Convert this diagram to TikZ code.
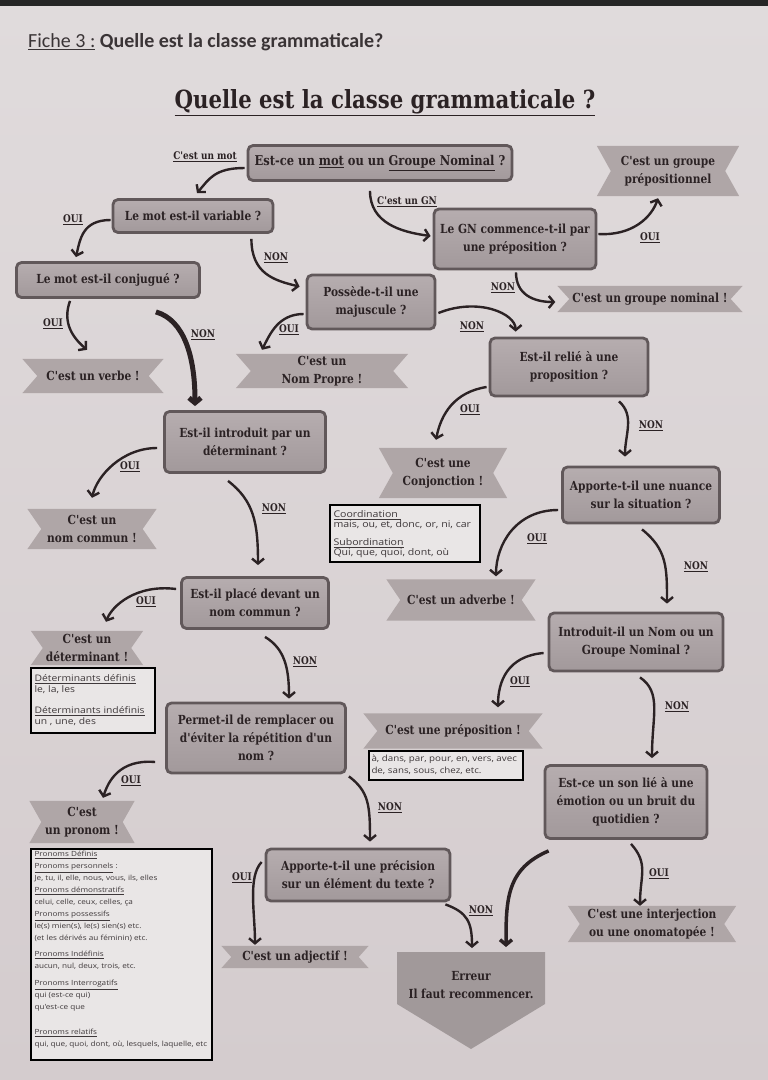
\documentclass[tikz,border=0pt]{standalone}
\usepackage{fontspec}
\setmainfont{DejaVu Serif}
\newfontfamily\slab{DejaVu Serif}[FakeStretch=0.85]
\newfontfamily\hdrf{Carlito}
\newfontfamily\lstf{Open Sans}[FakeStretch=1.15]
\usetikzlibrary{arrows.meta,backgrounds}
\definecolor{paperA}{HTML}{E0DBDC}
\definecolor{paperB}{HTML}{D4CCCE}
\definecolor{ink}{HTML}{2B2224}
\definecolor{hdrcol}{HTML}{3A3436}
\definecolor{boxtop}{HTML}{B6ADAF}
\definecolor{boxbot}{HTML}{A2999B}
\definecolor{boxline}{HTML}{61585A}
\definecolor{ribfill}{HTML}{AFA6A7}
\definecolor{lsttext}{HTML}{3E383A}
\tikzset{
  qbox/.style={draw=boxline, line width=2.8pt, rounded corners=5pt, top color=boxtop, bottom color=boxbot,
    align=center, inner sep=2pt, text=ink, font=\slab\bfseries\fontsize{12.5}{18}\selectfont},
  rib/.style={align=center, inner sep=1pt, text=ink, font=\slab\bfseries\fontsize{12.5}{18}\selectfont},
  lbl/.style={text=ink, inner sep=1pt, font=\slab\bfseries\fontsize{10.5}{12}\selectfont},
  arr/.style={draw=ink, line width=2.4pt, -{Straight Barb[length=5pt,width=12pt]}},
  info/.style={draw=black, line width=1.4pt, fill=paperA!70!white, inner sep=0pt},
  lsttxt/.style={align=left, inner sep=0pt, text=lsttext, anchor=north west},
}
\begin{document}
\begin{tikzpicture}[x=1pt,y=-1pt]
\useasboundingbox (0,0) rectangle (768,1080);
% header
\node[anchor=west, font=\hdrf\fontsize{20}{23}\selectfont, text=hdrcol, inner sep=0pt] (hdr) at (28,42)
  {\underline{Fiche 3 :} \textbf{Quelle est la classe grammaticale?}};
\node[font=\slab\bfseries\fontsize{25}{28}\selectfont, text=ink, inner sep=0pt] (title) at (385,103)
  {\underline{Quelle est la classe grammaticale ?}};

% questions
\node[qbox, minimum width=264pt, minimum height=35pt, font=\slab\bfseries\fontsize{13.5}{17}\selectfont] (q1) at (380,163) {Est-ce un \underline{mot} ou un \underline{Groupe Nominal} ?};
\node[qbox, minimum width=160pt, minimum height=33pt] (q2) at (193,216) {Le mot est-il variable ?};
\node[qbox, minimum width=183pt, minimum height=35pt] (q3) at (108,280) {Le mot est-il conjugué ?};
\node[qbox, minimum width=162pt, minimum height=60pt] (q4) at (515,239) {Le GN commence-t-il par\\une préposition ?};
\node[qbox, minimum width=128pt, minimum height=54pt] (q5) at (371,302) {Possède-t-il une\\majuscule ?};
\node[qbox, minimum width=158pt, minimum height=58pt] (q6) at (569,367) {Est-il relié à une\\proposition ?};
\node[qbox, minimum width=161pt, minimum height=61pt] (q7) at (245,442) {Est-il introduit par un\\déterminant ?};
\node[qbox, minimum width=157pt, minimum height=56pt] (q8) at (641,495) {Apporte-t-il une nuance\\sur la situation ?};
\node[qbox, minimum width=147pt, minimum height=51pt] (q9) at (255,603) {Est-il placé devant un\\nom commun ?};
\node[qbox, minimum width=174pt, minimum height=58pt] (q10) at (636,642) {Introduit-il un Nom ou un\\Groupe Nominal ?};
\node[qbox, minimum width=179pt, minimum height=70pt] (q11) at (256,738) {Permet-il de remplacer ou\\d'éviter la répétition d'un\\nom ?};
\node[qbox, minimum width=162pt, minimum height=73pt] (q12) at (626,802) {Est-ce un son lié à une\\émotion ou un bruit du\\quotidien ?};
\node[qbox, minimum width=184pt, minimum height=52pt] (q13) at (358,875) {Apporte-t-il une précision\\sur un élément du texte ?};

% results (ribbons)
\node[rib, minimum width=142pt, minimum height=50pt] (r1) at (668,171) {C'est un groupe\\prépositionnel};
\node[rib, minimum width=185pt, minimum height=26pt] (r2) at (650,299) {C'est un groupe nominal !};
\node[rib, minimum width=141pt, minimum height=34pt] (r3) at (93,376) {C'est un verbe !};
\node[rib, minimum width=172pt, minimum height=34pt] (r4) at (322,371) {C'est un\\Nom Propre !};
\node[rib, minimum width=128pt, minimum height=50pt] (r5) at (443,473) {C'est une\\Conjonction !};
\node[rib, minimum width=129pt, minimum height=40pt] (r6) at (92,529) {C'est un\\nom commun !};
\node[rib, minimum width=149pt, minimum height=41pt] (r7) at (461,600) {C'est un adverbe !};
\node[rib, minimum width=112pt, minimum height=34pt] (r8) at (87,648) {C'est un\\déterminant !};
\node[rib, minimum width=179pt, minimum height=35pt] (r9) at (453,731) {C'est une préposition !};
\node[rib, minimum width=105pt, minimum height=42pt] (r10) at (82,822) {C'est\\un pronom !};
\node[rib, minimum width=168pt, minimum height=36pt] (r11) at (652,924) {C'est une interjection\\ou une onomatopée !};
\node[rib, minimum width=147pt, minimum height=22pt] (r12) at (295,957) {C'est un adjectif !};
\node[rib] (err) at (471,985) {Erreur\\Il faut recommencer.};

% info boxes
\node[info, minimum width=150pt, minimum height=57pt] (b1) at (405,533.5) {};
\node[lsttxt, font=\lstf\fontsize{9.2}{10}\selectfont] (b1t) at ([shift={(4,6)}]b1.north west)
  {\underline{Coordination }\\mais, ou, et, donc, or, ni, car\\[8pt]\underline{Subordination}\\Qui, que, quoi, dont, où};
\node[info, minimum width=124pt, minimum height=65pt] (b2) at (93,700.5) {};
\node[lsttxt, font=\lstf\fontsize{9}{11.5}\selectfont] (b2t) at ([shift={(4,7)}]b2.north west)
  {\underline{Déterminants définis}\\le, la, les\\[9pt]\underline{Déterminants indéfinis}\\un , une, des};
\node[info, minimum width=154pt, minimum height=29pt] (b3) at (446,765.5) {};
\node[lsttxt, font=\lstf\fontsize{8.5}{12.5}\selectfont] (b3t) at ([shift={(3,4)}]b3.north west)
  {à, dans, par, pour, en, vers, avec\\de, sans, sous, chez, etc.};
\node[info, minimum width=181pt, minimum height=211pt] (b4) at (121.5,954.5) {};
\node[lsttxt, font=\lstf\fontsize{7.1}{12}\selectfont] (b4t) at ([shift={(4,3)}]b4.north west)
  {\underline{Pronoms Définis}\\
   \underline{Pronoms personnels} :\\
   Je, tu, il, elle, nous, vous, ils, elles\\
   \underline{Pronoms démonstratifs}\\
   celui, celle, ceux, celles, ça\\
   \underline{Pronoms possessifs}\\
   le(s) mien(s), le(s) sien(s) etc.\\
   (et les dérivés au féminin) etc.\\[4pt]
   \underline{Pronoms Indéfinis}\\
   aucun, nul, deux, trois, etc.\\[5pt]
   \underline{Pronoms Interrogatifs}\\
   qui (est-ce qui)\\
   qu'est-ce que\\[13pt]
   \underline{Pronoms relatifs}\\
   qui, que, quoi, dont, où, lesquels, laquelle, etc};

% background: paper, ribbons, error arrow shape
\begin{scope}[on background layer]
\shade[top color=paperA, bottom color=paperB] (0,0) rectangle (768,1080);
\fill[black!85] (0,0) rectangle (768,6);
\foreach \n/\d in {r1/14,r2/12,r3/15,r4/15,r5/14,r6/14,r7/14,r8/12,r9/14,r10/12,r11/12,r12/10}
  \fill[ribfill] (\n.north west) -- (\n.north east) -- ([xshift=-\d pt]\n.east) -- (\n.south east)
     -- (\n.south west) -- ([xshift=\d pt]\n.west) -- cycle;
\fill[ribfill!92!black] ([shift={(-74,-33)}]err.center) -- ([shift={(74,-33)}]err.center)
  -- ([shift={(74,19)}]err.center) -- ([shift={(0,64)}]err.center) -- ([shift={(-74,19)}]err.center) -- cycle;
\end{scope}

% connectors
\draw[arr] ([shift={(-2,5)}]q1.west) .. controls +(-30,0) and +(12,-14) .. ([shift={(4,-5)}]q2.north);
\draw[arr] ([shift={(-10,9)}]q1.south) .. controls +(0,32) and +(-30,-4) .. ([shift={(-2,-3)}]q4.west);
\draw[arr] ([shift={(1,-5)}]q4.east) .. controls +(35,2) and +(-6,18) .. ([shift={(-10,2)}]r1.south);
\draw[arr] ([shift={(1,2)}]q4.south) .. controls +(0,22) and +(-22,0) .. ([shift={(-2,3)}]r2.west);
\draw[arr] ([shift={(-1,4)}]q2.west) .. controls +(-28,0) and +(4,-18) .. ([shift={(-32,-4)}]q3.north);
\draw[arr] ([shift={(-23,5)}]q2.south east) .. controls +(0,35) and +(-25,-6) .. ([shift={(-6,13)}]q5.north west);
\draw[arr] ([shift={(-38,2)}]q3.south) .. controls +(-8,22) and +(-14,-12) .. ([shift={(-6,-9)}]r3.north);
\draw[arr, line width=5pt] ([shift={(-45,13)}]q3.south east) .. controls +(28,8) and +(0,-50) .. ([shift={(-50,-4)}]q7.north);
\draw[arr] ([shift={(-2,12)}]q5.west) .. controls +(-25,0) and +(8,-16) .. ([shift={(-60,-4)}]r4.north);
\draw[arr] ([shift={(2,11)}]q5.east) .. controls +(40,-16) and +(0,-18) .. ([shift={(27,-5)}]q6.north west);
\draw[arr] ([shift={(-2,20)}]q6.west) .. controls +(-32,5) and +(5,-26) .. ([shift={(-7,-8)}]r5.north);
\draw[arr] ([shift={(50,4)}]q6.south) .. controls +(16,14) and +(0,-22) .. ([shift={(-16,-9)}]q8.north);
\draw[arr] ([shift={(-6,6)}]q7.west) .. controls +(-35,0) and +(5,-22) .. ([shift={(0,-11)}]r6.north);
\draw[arr] ([shift={(-17,7)}]q7.south) .. controls +(26,20) and +(0,-42) .. ([shift={(3,-11)}]q9.north);
\draw[arr] ([shift={(-3,15)}]q8.west) .. controls +(-42,0) and +(0,-32) .. ([shift={(35,-3)}]r7.north);
\draw[arr] ([shift={(1,5)}]q8.south) .. controls +(25,20) and +(0,-36) .. ([shift={(31,-8)}]q10.north);
\draw[arr] ([shift={(-4,-14)}]q9.west) .. controls +(-40,-5) and +(6,-16) .. ([shift={(19,-9)}]r8.north);
\draw[arr] ([shift={(10,7)}]q9.south) .. controls +(20,12) and +(0,-30) .. ([shift={(33,-3)}]q11.north);
\draw[arr] ([shift={(-4,11)}]q10.west) .. controls +(-36,3) and +(0,-26) .. ([shift={(45,-6)}]r9.north);
\draw[arr] ([shift={(4,5)}]q10.south) .. controls +(22,15) and +(0,-42) .. ([shift={(26,-6)}]q12.north);
\draw[arr] ([shift={(-10,24)}]q11.west) .. controls +(-36,-3) and +(5,-16) .. ([shift={(21,-3)}]r10.north);
\draw[arr] ([shift={(2,2)}]q11.south east) .. controls +(20,15) and +(0,-36) .. ([shift={(12,-6)}]q13.north);
\draw[arr] ([shift={(-3,-13)}]q13.west) .. controls +(-14,15) and +(0,-32) .. ([shift={(-40,-1)}]r12.north);
\draw[arr] ([shift={(-6,2)}]q13.south east) .. controls +(22,8) and +(0,-26) .. ([shift={(1,-37)}]err.center);
\draw[arr, line width=3.5pt] ([shift={(5,11)}]q12.south west) .. controls +(-42,18) and +(0,-48) .. ([shift={(35,-38)}]err.center);
\draw[arr] ([shift={(5,4)}]q12.south) .. controls +(18,20) and +(0,-30) .. ([shift={(-12,0)}]r11.north);

% labels
\node[lbl] (lmot) at (205,157) {\underline{C'est un mot}};
\node[lbl] (lgn) at (407,202) {\underline{C'est un GN}};
\node[lbl] (l3) at (650,238) {\underline{OUI}};
\node[lbl] (l4) at (503,288) {\underline{NON}};
\node[lbl] (l5) at (73,220) {\underline{OUI}};
\node[lbl] (l6) at (276,258) {\underline{NON}};
\node[lbl] (l7) at (53,324) {\underline{OUI}};
\node[lbl] (l8) at (203,335) {\underline{NON}};
\node[lbl] (l9) at (289,330) {\underline{OUI}};
\node[lbl] (l10) at (472,327) {\underline{NON}};
\node[lbl] (l11) at (470,410) {\underline{OUI}};
\node[lbl] (l12) at (651,426) {\underline{NON}};
\node[lbl] (l13) at (130,467) {\underline{OUI}};
\node[lbl] (l14) at (274,509) {\underline{NON}};
\node[lbl] (l15) at (537,539) {\underline{OUI}};
\node[lbl] (l16) at (696,567) {\underline{NON}};
\node[lbl] (l17) at (146,602) {\underline{OUI}};
\node[lbl] (l18) at (305,662) {\underline{NON}};
\node[lbl] (l19) at (520,682) {\underline{OUI}};
\node[lbl] (l20) at (677,707) {\underline{NON}};
\node[lbl] (l21) at (131,781) {\underline{OUI}};
\node[lbl] (l22) at (390,808) {\underline{NON}};
\node[lbl] (l23) at (242,878) {\underline{OUI}};
\node[lbl] (l24) at (481,911) {\underline{NON}};
\node[lbl] (l26) at (659,874) {\underline{OUI}};
\end{tikzpicture}
\end{document}
